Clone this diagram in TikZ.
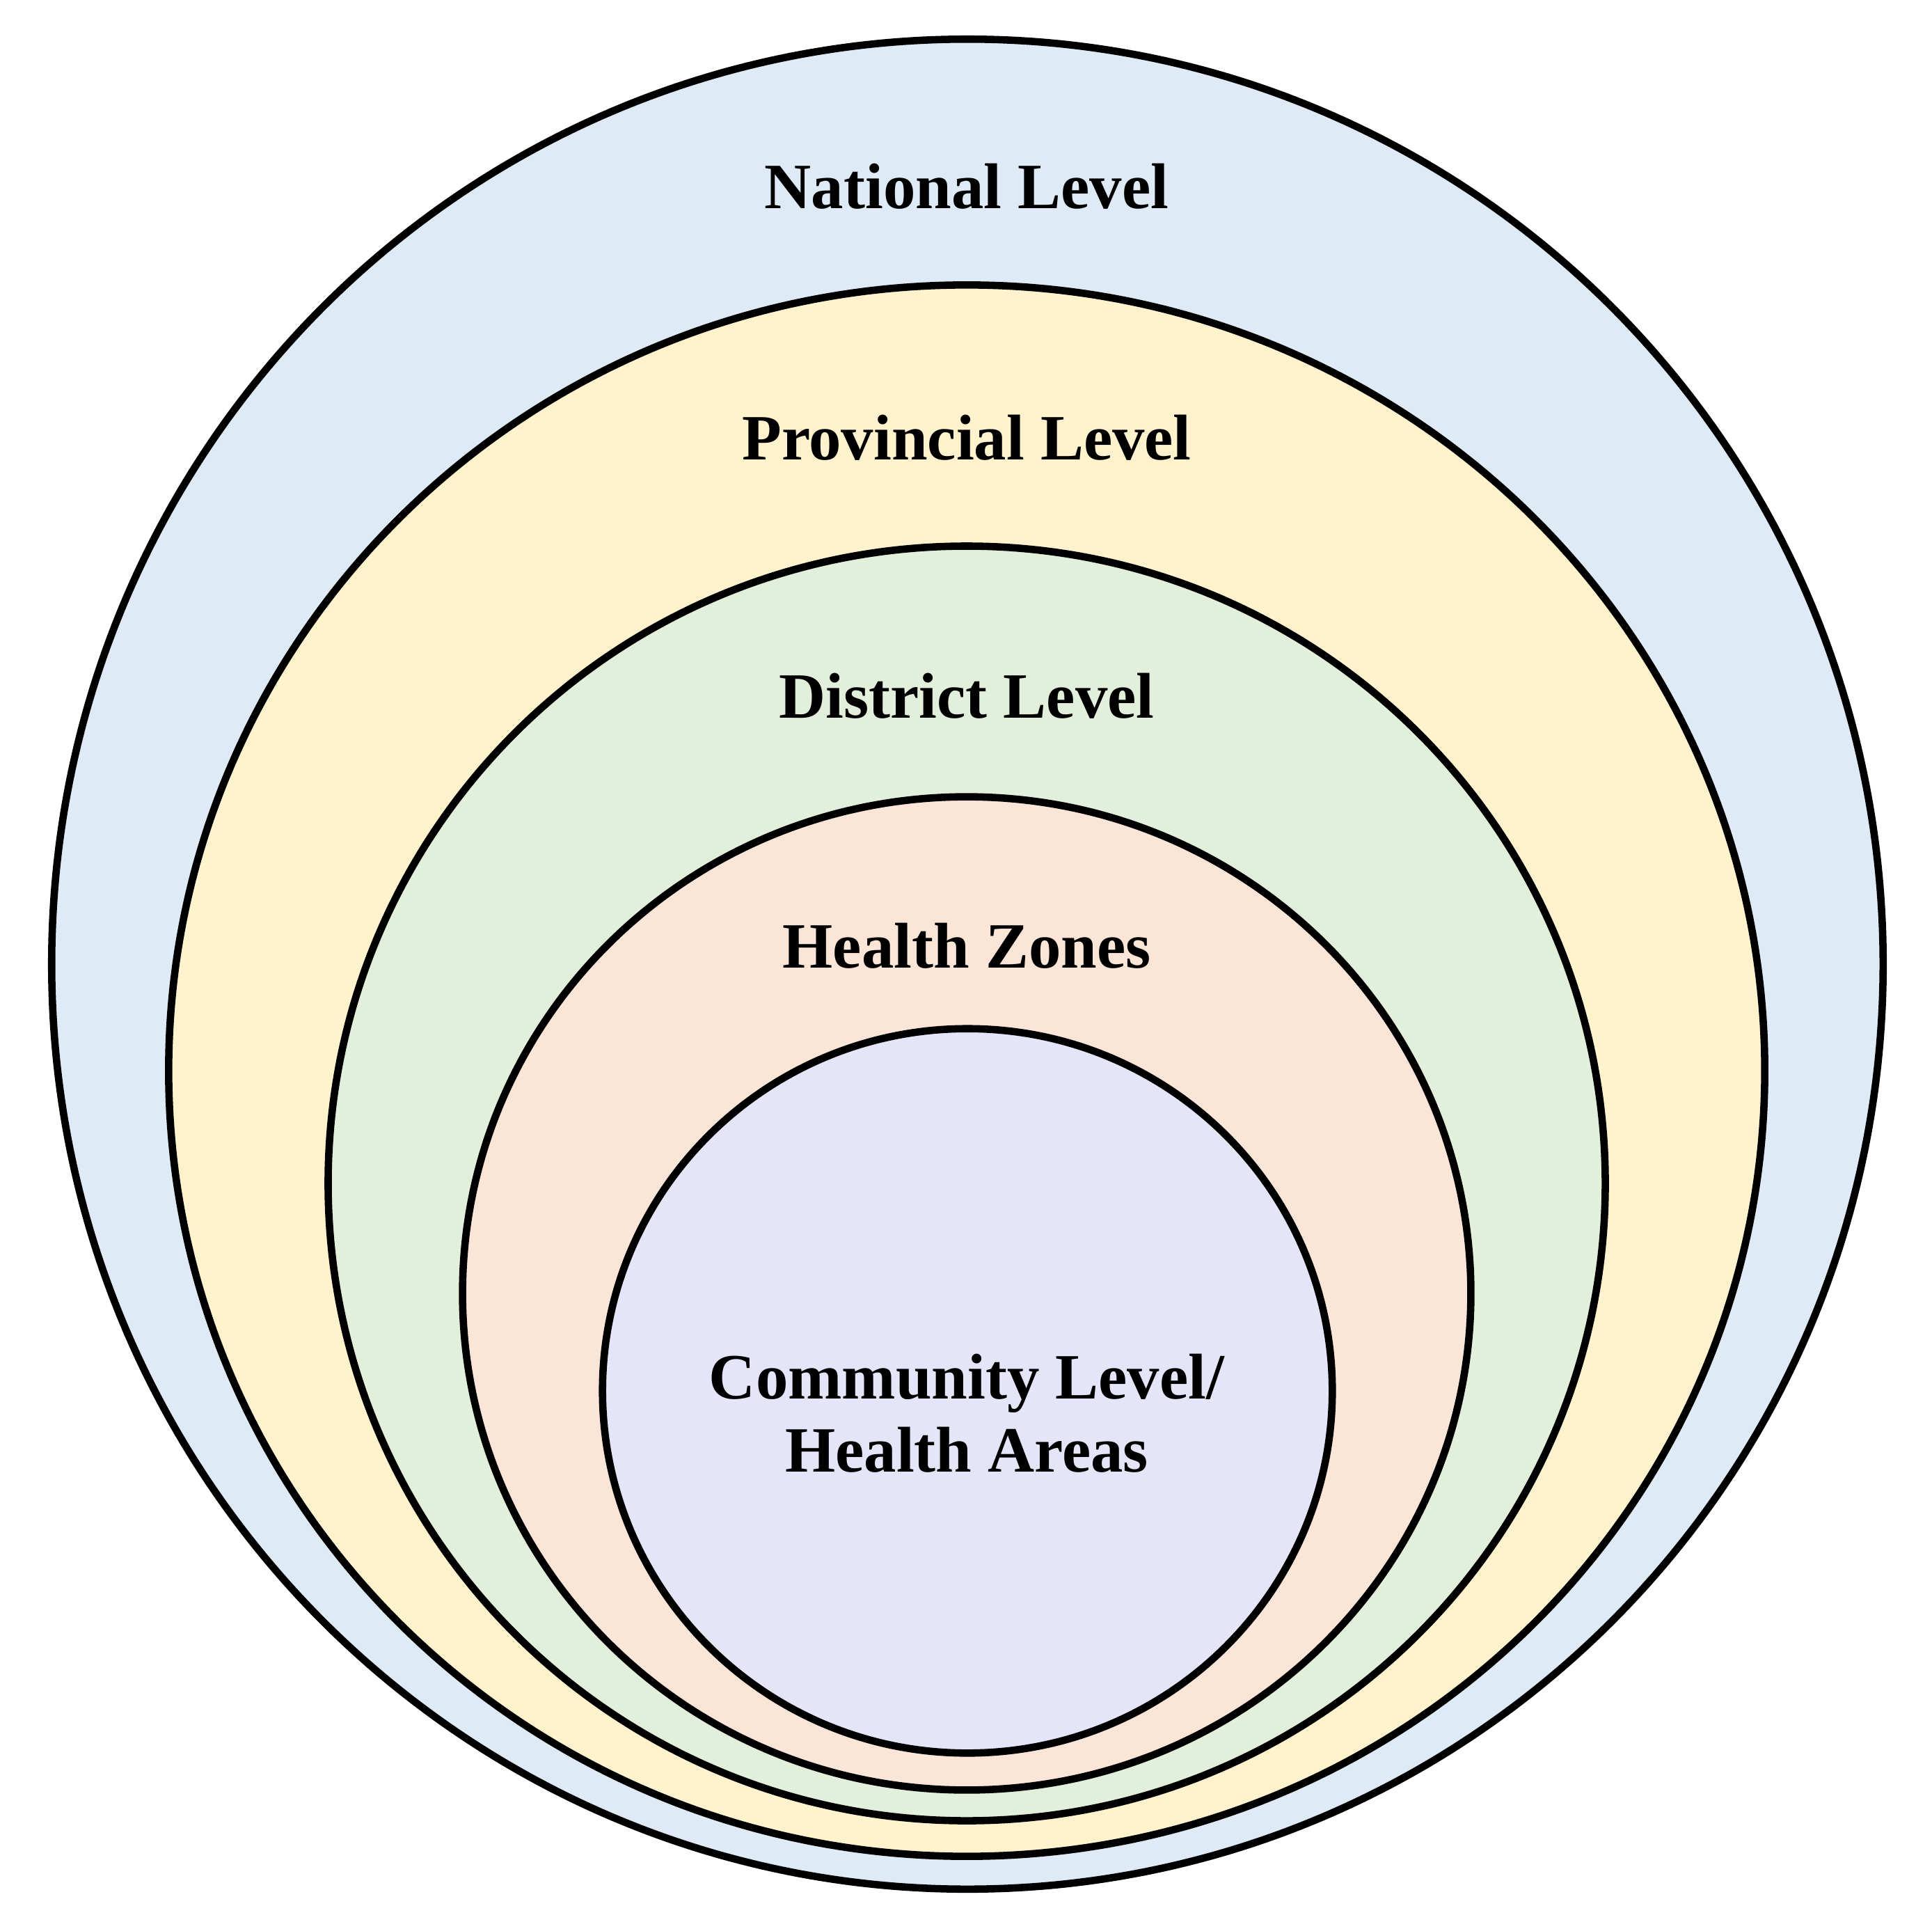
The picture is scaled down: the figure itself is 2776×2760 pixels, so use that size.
\documentclass[tikz,border=0pt]{standalone}
\usepackage{fontspec}
\setmainfont{Liberation Serif}
\usetikzlibrary{shapes.geometric}
\definecolor{natc}{HTML}{DEEAF6}
\definecolor{provc}{HTML}{FFF2CC}
\definecolor{distc}{HTML}{E2EFDA}
\definecolor{zonec}{HTML}{FBE5D6}
\definecolor{commc}{HTML}{E4E5F8}
\begin{document}
\begin{tikzpicture}[x=0.01cm,y=-0.01cm,
  ring/.style={ellipse, draw=black, line width=3pt, inner sep=0pt, outer sep=0pt},
  lbl/.style={font=\bfseries\fontsize{26.4}{30}\selectfont, align=center, inner sep=0pt}]
\useasboundingbox (0,0) rectangle (2776,2760);
\node[ring, fill=natc,  minimum width=26.30cm, minimum height=26.56cm] (national)   at (1390,1385) {};
\node[ring, fill=provc, minimum width=22.92cm, minimum height=22.56cm] (provincial) at (1389,1538) {};
\node[ring, fill=distc, minimum width=18.34cm, minimum height=18.30cm] (district)   at (1389,1700) {};
\node[ring, fill=zonec, minimum width=14.48cm, minimum height=14.26cm] (zones)      at (1389,1858) {};
\node[ring, fill=commc, minimum width=10.48cm, minimum height=10.40cm] (community)  at (1390,1998) {};
\node[lbl, anchor=base] (natlbl)  at (1389,299)  {National Level};
\node[lbl, anchor=base] (provlbl) at (1389,660)  {Provincial Level};
\node[lbl, anchor=base] (distlbl) at (1389,1031) {District Level};
\node[lbl, anchor=base] (zonelbl) at (1389,1390) {Health Zones};
\node[lbl, anchor=center] (commlbl) at (1389,2030) {Community Level/\\Health Areas};
\end{tikzpicture}
\end{document}
